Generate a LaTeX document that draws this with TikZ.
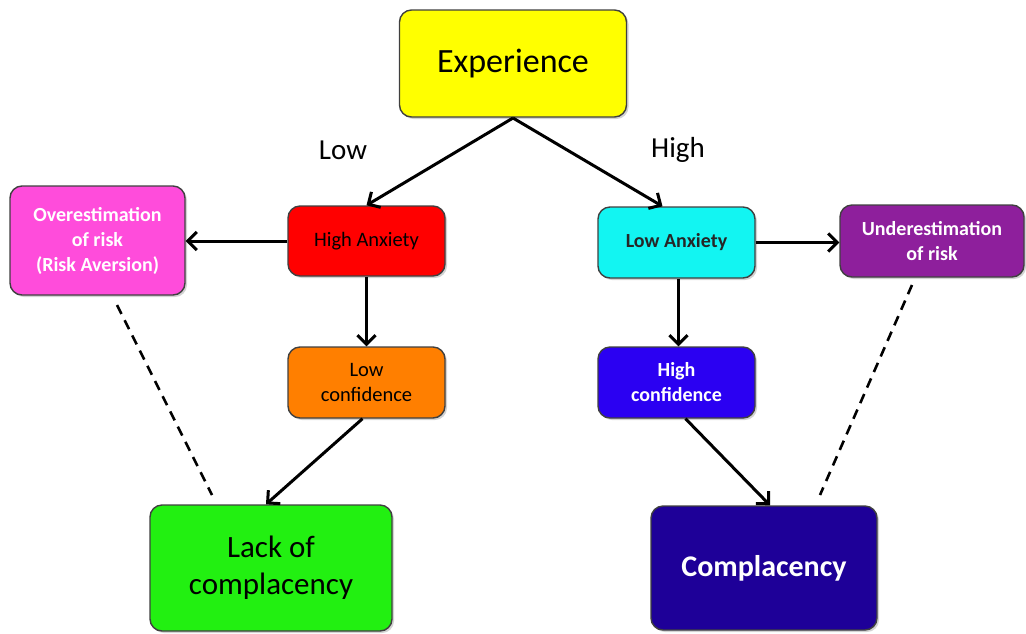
\documentclass[tikz,border=0pt]{standalone}
\usepackage{fontspec}
\setmainfont{Carlito}
\usetikzlibrary{arrows.meta,shadows}
\definecolor{cYellow}{HTML}{FFFF00}
\definecolor{cRed}{HTML}{FF0000}
\definecolor{cMagenta}{HTML}{FF4CDB}
\definecolor{cOrange}{HTML}{FF7F00}
\definecolor{cCyan}{HTML}{12F5F2}
\definecolor{cPurple}{HTML}{8E1F9C}
\definecolor{cBlue}{HTML}{2B00F2}
\definecolor{cGreen}{HTML}{22F011}
\definecolor{cNavy}{HTML}{1E0098}
\tikzset{
  box/.style={draw=black!75, line width=1.4pt, rounded corners=12pt, align=center,
    inner sep=0pt, drop shadow={shadow xshift=2pt, shadow yshift=-2pt, opacity=0.35}},
  small/.style={font=\fontsize{20.5}{25}\selectfont},
  smallb/.style={font=\fontsize{20}{25}\selectfont\bfseries},
  conn/.style={line width=3pt, -{Straight Barb[length=9pt,width=18pt,line width=3pt]}},
  dashline/.style={line width=2.6pt, dash pattern=on 10pt off 7pt},
  lbl/.style={font=\fontsize{29}{32}\selectfont}
}
\begin{document}
\begin{tikzpicture}[x=1pt,y=-1pt]
\useasboundingbox (0,0) rectangle (1026,633);
\node[box, fill=cYellow, minimum width=227pt, minimum height=107pt, font=\fontsize{34}{38}\selectfont] (exp) at (513,63.5) {Experience};
\node[lbl] (low) at (343,150) {Low};
\node[lbl] (high) at (678,150) {High};
\node[box, fill=cRed, minimum width=157pt, minimum height=70pt, small] (ha) at (366.5,241) {High Anxiety};
\node[box, fill=cMagenta, minimum width=175pt, minimum height=109pt, smallb, text=white] (over) at (97.5,240.5) {Overestimation\\of risk\\(Risk Aversion)};
\node[box, fill=cOrange, minimum width=157pt, minimum height=71pt, small] (lc) at (366.5,382.5) {Low\\confidence};
\node[box, fill=cCyan, minimum width=157pt, minimum height=71pt, smallb, text=black!85] (la) at (676.5,242.5) {Low Anxiety};
\node[box, fill=cPurple, minimum width=184pt, minimum height=72pt, smallb, text=white] (under) at (932,241) {Underestimation\\of risk};
\node[box, fill=cBlue, minimum width=157pt, minimum height=71pt, smallb, text=white] (hc) at (676.5,382.5) {High\\confidence};
\node[box, fill=cGreen, minimum width=242pt, minimum height=126pt, font=\fontsize{31}{37}\selectfont] (lack) at (271,568) {Lack of\\complacency};
\node[box, fill=cNavy, minimum width=226pt, minimum height=124pt, font=\fontsize{30}{36}\selectfont\bfseries, text=white] (comp) at (764,568) {Complacency};
\coordinate (expb) at (513,118);
\draw[conn] (expb) -- (ha.north);
\draw[conn] (expb) -- ([xshift=-14pt]la.north);
\draw[conn] (ha.west) -- (ha.west -| over.east);
\draw[conn] (ha.south) -- (lc.north);
\draw[conn] (la.east) -- (la.east -| under.west);
\draw[conn] ([xshift=2pt]la.south) -- ([xshift=2pt]hc.north);
\draw[conn] ([xshift=-4pt]lc.south) -- ([xshift=-5pt]lack.north);
\draw[conn] ([xshift=9pt]hc.south) -- ([xshift=6pt]comp.north);
\coordinate (d1a) at (117,305);
\coordinate (d1b) at (212,495);
\coordinate (d2a) at (912,285);
\coordinate (d2b) at (820,495);
\draw[dashline] (d1a) -- (d1b);
\draw[dashline] (d2a) -- (d2b);
\end{tikzpicture}
\end{document}
